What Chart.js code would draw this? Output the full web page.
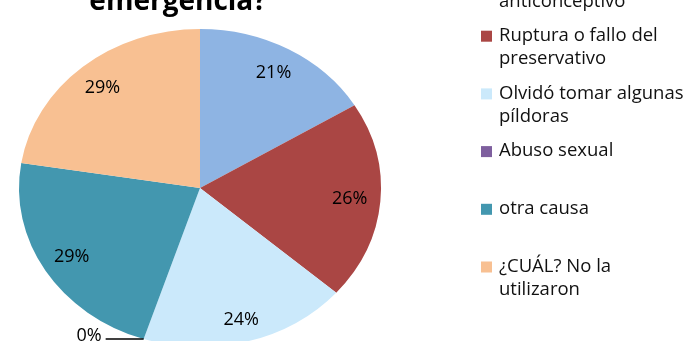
<!DOCTYPE html>
<html>
<head>
<meta charset="utf-8">
<script src="https://cdn.jsdelivr.net/npm/chart.js@4"></script>
<style>
  html, body { margin: 0; padding: 0; background: #fff; }
  #wrap { width: 695px; height: 341px; overflow: hidden; position: relative; }
</style>
</head>
<body>
<div id="wrap"><canvas id="pie" width="695" height="360"></canvas></div>
<script>
const categories = [
  ['Falla del método', 'anticonceptivo'],
  ['Ruptura o fallo del', 'preservativo'],
  ['Olvidó tomar algunas', 'píldoras'],
  ['Abuso sexual'],
  ['otra causa'],
  ['¿CUÁL? No la', 'utilizaron']
];
const values = [21, 26, 24, 0, 29, 29];
const valueLabels = ['21%', '26%', '24%', '0%', '29%', '29%'];
const colors = ['#8EB4E3', '#AA4644', '#CBE9FB', '#7E5F9E', '#4397AF', '#F8C092'];
const titleText = 'emergencia?';

const FONT = '"Open Sans", sans-serif';
const stretchX = 181 / 159; // the pie is an ellipse, wider than tall

const ellipsePlugin = {
  id: 'ellipse',
  beforeDatasetsDraw(chart) {
    const arc = chart.getDatasetMeta(0).data[0];
    const ctx = chart.ctx;
    ctx.save();
    ctx.translate(arc.x, arc.y);
    ctx.scale(stretchX, 1);
    ctx.translate(-arc.x, -arc.y);
  },
  afterDatasetsDraw(chart) {
    chart.ctx.restore();
  }
};

const decorPlugin = {
  id: 'decor',
  afterDraw(chart) {
    const ctx = chart.ctx;
    const meta = chart.getDatasetMeta(0);
    ctx.save();

    // title (upper part cut off)
    ctx.fillStyle = '#000';
    ctx.font = 'bold 28px ' + FONT;
    ctx.textAlign = 'center';
    ctx.textBaseline = 'alphabetic';
    ctx.fillText(titleText, 178, 10);

    // slice labels
    ctx.font = '18px ' + FONT;
    ctx.textBaseline = 'middle';
    meta.data.forEach((arc, i) => {
      const mid = (arc.startAngle + arc.endAngle) / 2;
      const r = arc.outerRadius;
      if (values[i] === 0) {
        const ex = arc.x + Math.cos(mid) * r * stretchX;
        const ey = arc.y + Math.sin(mid) * r;
        ctx.strokeStyle = '#000';
        ctx.lineWidth = 1.5;
        ctx.beginPath();
        ctx.moveTo(ex, ey);
        ctx.lineTo(ex - 38, ey);
        ctx.stroke();
        ctx.textAlign = 'right';
        ctx.fillText(valueLabels[i], ex - 42, ey - 3);
      } else {
        const k = i === 2 ? 0.86 : 0.83;
        const px = arc.x + Math.cos(mid) * r * k * stretchX;
        const py = arc.y + Math.sin(mid) * r * k;
        ctx.textAlign = 'center';
        ctx.fillText(valueLabels[i], px, py);
      }
    });

    // legend
    ctx.font = '18.5px ' + FONT;
    ctx.textAlign = 'left';
    ctx.textBaseline = 'middle';
    categories.forEach((lines, i) => {
      const top = -22 + i * 57.7;
      ctx.fillStyle = colors[i];
      ctx.fillRect(481, top - 5, 11, 11);
      ctx.fillStyle = '#111';
      lines.forEach((ln, j) => {
        ctx.fillText(ln, 499, top + j * 23.5);
      });
    });
    ctx.restore();
  }
};

new Chart(document.getElementById('pie'), {
  type: 'pie',
  data: {
    labels: categories,
    datasets: [{
      data: values,
      backgroundColor: colors,
      borderWidth: 0
    }]
  },
  options: {
    responsive: false,
    animation: false,
    layout: { padding: { top: 29, bottom: 13, left: 41, right: 336 } },
    plugins: {
      legend: { display: false },
      tooltip: { enabled: false }
    }
  },
  plugins: [ellipsePlugin, decorPlugin]
});
</script>
</body>
</html>
